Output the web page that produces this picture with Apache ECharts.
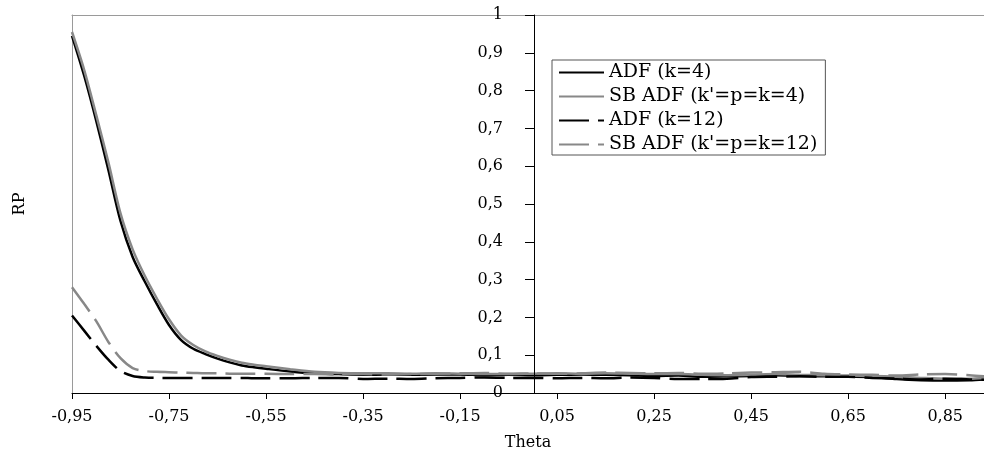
<!DOCTYPE html>
<html>
<head>
<meta charset="utf-8">
<script src="https://cdn.jsdelivr.net/npm/echarts@6/dist/echarts.min.js"></script>
<style>html,body{margin:0;padding:0;background:#fff}#c{width:984px;height:456px}</style>
</head>
<body>
<div id="c"></div>
<script>
var theta = [-0.95,-0.925,-0.9,-0.875,-0.85,-0.825,-0.8,-0.775,-0.75,-0.725,-0.7,-0.675,-0.65,-0.625,-0.6,-0.575,-0.55,
  -0.5,-0.45,-0.4,-0.35,-0.3,-0.25,-0.2,-0.15,-0.1,-0.05,0,0.05,0.1,0.15,0.2,0.25,0.3,0.35,0.4,0.45,0.5,0.55,0.6,0.65,0.7,0.75,0.8,0.85,0.9,0.93];
var adf4 = [0.945,0.84,0.72,0.59,0.455,0.36,0.295,0.235,0.18,0.14,0.117,0.103,0.091,0.081,0.073,0.068,0.064,
  0.057,0.052,0.050,0.048,0.049,0.048,0.049,0.049,0.047,0.048,0.047,0.048,0.049,0.048,0.047,0.045,0.046,0.043,0.044,0.045,0.047,0.045,0.044,0.043,0.042,0.037,0.034,0.033,0.034,0.036];
var sbAdf4 = [0.955,0.855,0.735,0.61,0.475,0.38,0.31,0.25,0.195,0.152,0.127,0.110,0.098,0.088,0.080,0.075,0.071,
  0.063,0.056,0.053,0.052,0.052,0.051,0.052,0.051,0.050,0.050,0.051,0.052,0.051,0.052,0.051,0.050,0.050,0.048,0.047,0.048,0.050,0.048,0.047,0.046,0.045,0.043,0.040,0.038,0.038,0.040];
var adf12 = [0.205,0.165,0.125,0.088,0.058,0.045,0.041,0.040,0.040,0.040,0.040,0.040,0.040,0.040,0.040,0.039,0.039,
  0.039,0.040,0.040,0.037,0.038,0.037,0.039,0.040,0.041,0.040,0.040,0.039,0.040,0.039,0.041,0.040,0.037,0.037,0.038,0.042,0.043,0.044,0.043,0.043,0.040,0.038,0.036,0.038,0.036,0.035];
var sbAdf12 = [0.280,0.236,0.190,0.135,0.092,0.066,0.058,0.056,0.055,0.054,0.053,0.052,0.052,0.051,0.051,0.051,0.051,
  0.050,0.050,0.049,0.050,0.049,0.050,0.051,0.052,0.053,0.051,0.052,0.051,0.052,0.054,0.053,0.052,0.053,0.051,0.052,0.054,0.055,0.056,0.051,0.049,0.048,0.046,0.049,0.050,0.047,0.044];
var seriesNames = ['ADF (k=4)', "SB ADF (k'=p=k=4)", 'ADF (k=12)', "SB ADF (k'=p=k=12)"];
var xTicks = [-0.95,-0.75,-0.55,-0.35,-0.15,0.05,0.25,0.45,0.65,0.85];
var yTicks = [0,0.1,0.2,0.3,0.4,0.5,0.6,0.7,0.8,0.9,1];

var SHIFT = 0.95; // x axis runs in (theta + 0.95) so ticks start at -0.95
var XMAX = 1.88;
function pts(vals){ return theta.map(function(t,i){ return [+(t+SHIFT).toFixed(3), vals[i]]; }); }
function fmt(v, d){ return v.toFixed(d).replace('.', ','); }

var FONT = 'DejaVu Serif';
var chart = echarts.init(document.getElementById('c'), null, {renderer:'canvas'});
var tickVals = xTicks.map(function(t){ return +(t+SHIFT).toFixed(2); });
var frame = {lineStyle: {color: '#9a9a9a', width: 1}};
chart.setOption({
  animation: false,
  backgroundColor: '#fff',
  grid: {left: 72, right: 0, top: 15, bottom: 60},
  xAxis: [{
    type: 'value', min: 0, max: XMAX, z: 5,
    name: 'Theta', nameLocation: 'middle', nameGap: 42,
    nameTextStyle: {fontFamily: FONT, fontSize: 16, color: '#000'},
    axisLine: {onZero: false, lineStyle: {color: '#000', width: 1}},
    axisTick: {customValues: tickVals, length: 6, lineStyle: {color: '#000'}},
    axisLabel: {customValues: tickVals, margin: 16, fontFamily: FONT, fontSize: 16, color: '#000',
      formatter: function(v){ return fmt(v - SHIFT, 2); }},
    splitLine: {show: false}
  }, {
    type: 'value', min: 0, max: XMAX, position: 'top',
    axisLine: {show: true, onZero: false, lineStyle: frame.lineStyle},
    axisTick: {show: false}, axisLabel: {show: false}, splitLine: {show: false}
  }],
  yAxis: [{
    type: 'value', min: 0, max: 1, interval: 0.1, position: 'left', offset: -462, z: 5,
    axisLine: {show: true, onZero: false, lineStyle: {color: '#000', width: 1}},
    axisTick: {show: true, length: 9, lineStyle: {color: '#000'}},
    axisLabel: {margin: 31, fontFamily: FONT, fontSize: 16, color: '#000',
      formatter: function(v){ var r = Math.round(v*10)/10; return (r === 0 || r === 1) ? String(r) : fmt(r, 1); }},
    splitLine: {show: false}
  }, {
    type: 'value', min: 0, max: 1, position: 'left', offset: 0,
    axisLine: {show: true, onZero: false, lineStyle: frame.lineStyle},
    axisTick: {show: false}, axisLabel: {show: false}, splitLine: {show: false}
  }],
  legend: {
    orient: 'vertical', left: 552, top: 60,
    padding: [3, 8, 1, 6], itemGap: 5, itemWidth: 45, itemHeight: 14,
    borderColor: '#555', borderWidth: 1, backgroundColor: '#fff',
    itemStyle: {opacity: 0},
    textStyle: {fontFamily: FONT, fontSize: 19, lineHeight: 19, color: '#000'},
    data: seriesNames
  },
  graphic: [{type: 'text', x: 20, y: 204, rotation: Math.PI/2,
    style: {text: 'RP', font: '16px "DejaVu Serif"', fill: '#000', align: 'center', verticalAlign: 'middle'}}],
  series: [
    {name: seriesNames[0], type: 'line', data: pts(adf4), symbol: 'none', smooth: 0.3, z: 3,
      lineStyle: {color: '#000', width: 2.5}, itemStyle: {color: '#000'}},
    {name: seriesNames[1], type: 'line', data: pts(sbAdf4), symbol: 'none', smooth: 0.3, z: 4,
      lineStyle: {color: '#888', width: 2.5}, itemStyle: {color: '#888'}},
    {name: seriesNames[2], type: 'line', data: pts(adf12), symbol: 'none', smooth: 0.3, z: 5,
      lineStyle: {color: '#000', width: 2.5, type: [30, 9]}, itemStyle: {color: '#000'}},
    {name: seriesNames[3], type: 'line', data: pts(sbAdf12), symbol: 'none', smooth: 0.3, z: 6,
      lineStyle: {color: '#888', width: 2.5, type: [30, 9]}, itemStyle: {color: '#888'}}
  ]
});
</script>
</body>
</html>
